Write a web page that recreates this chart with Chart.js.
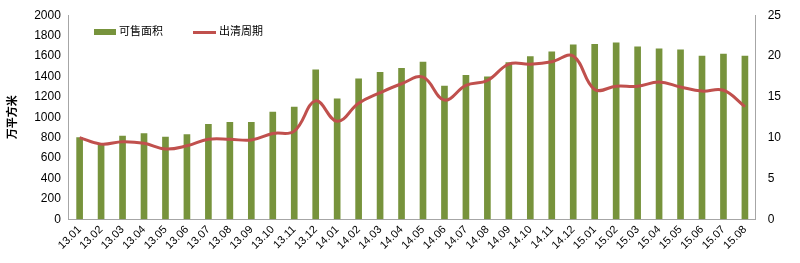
<!DOCTYPE html>
<html>
<head>
<meta charset="utf-8">
<script src="https://cdn.jsdelivr.net/npm/chart.js@4"></script>
<style>
html,body{margin:0;padding:0;background:#fff}
#wrap{width:800px;height:263px;position:relative}
.lg{position:absolute;top:22px;font-family:"Noto Sans CJK SC",sans-serif;font-size:11px;color:#000;line-height:16px;white-space:nowrap}
.lg span.sw{display:inline-block;vertical-align:middle;margin-right:3px}
</style>
</head>
<body>
<div id="wrap">
  <canvas id="myChart"></canvas>
  <div class="lg" style="left:94px"><span class="sw" style="width:22px;height:6px;background:#77933C"></span>可售面积</div>
  <div class="lg" style="left:193px"><span class="sw" style="width:23px;height:3px;background:#C0504D"></span>出清周期</div>
</div>
<script>
var months=['13.01','13.02','13.03','13.04','13.05','13.06','13.07','13.08','13.09','13.10','13.11','13.12',
  '14.01','14.02','14.03','14.04','14.05','14.06','14.07','14.08','14.09','14.10','14.11','14.12',
  '15.01','15.02','15.03','15.04','15.05','15.06','15.07','15.08']
var saleArea=[800,730,815,840,805,830,930,950,950,1050,1100,1465,
  1180,1375,1440,1480,1540,1305,1410,1395,1535,1595,1640,1710,
  1715,1730,1690,1670,1660,1600,1620,1600]
var clearCycle=[10,9.2,9.5,9.3,8.6,9.0,9.8,9.8,9.7,10.5,10.8,14.5,
  12.0,14.2,15.5,16.6,17.4,14.6,16.4,17.0,19.0,19.0,19.3,20.0,
  15.9,16.3,16.3,16.8,16.2,15.7,15.8,13.8]

var font={family:'"Liberation Sans", Arial, sans-serif',size:12}
var xfont={family:'"Liberation Sans", Arial, sans-serif',size:11}
var axisColor='#a6a6a6'

var ctx=document.getElementById('myChart').getContext('2d')
var chart=new Chart(ctx,{
  data:{
    labels:months,
    datasets:[
      {
        type:'line',
        label:'出清周期',
        data:clearCycle,
        yAxisID:'y2',
        borderColor:'#C0504D',
        borderWidth:3,
        pointRadius:0,
        tension:0.4,
        order:0
      },
      {
        type:'bar',
        label:'可售面积',
        data:saleArea,
        yAxisID:'y',
        backgroundColor:'#77933C',
        borderWidth:0,
        barThickness:6,
        order:1
      }
    ]
  },
  options:{
    responsive:true,
    maintainAspectRatio:false,
    animation:false,
    layout:{padding:{left:5,right:11,top:12,bottom:7}},
    plugins:{
      legend:{display:false},
      tooltip:{enabled:false}
    },
    scales:{
      x:{
        grid:{display:false,drawTicks:false},
        border:{color:axisColor},
        ticks:{font:xfont,color:'#000',maxRotation:45,minRotation:45,autoSkip:false,padding:4}
      },
      y:{
        position:'left',
        min:0,max:2000,
        grid:{display:false,drawTicks:true,tickLength:4,tickColor:axisColor},
        border:{color:axisColor},
        ticks:{stepSize:200,font:font,color:'#000',padding:4,callback:function(v){return v}},
        title:{display:true,text:'万平方米',font:{family:'"Noto Sans CJK SC", sans-serif',size:11,weight:'bold'},color:'#000',padding:{top:0,bottom:12}}
      },
      y2:{
        position:'right',
        min:0,max:25,
        grid:{display:false,drawTicks:true,tickLength:4,tickColor:axisColor},
        border:{color:axisColor},
        ticks:{stepSize:5,font:font,color:'#000',padding:8}
      }
    }
  }
})
</script>
</body>
</html>
